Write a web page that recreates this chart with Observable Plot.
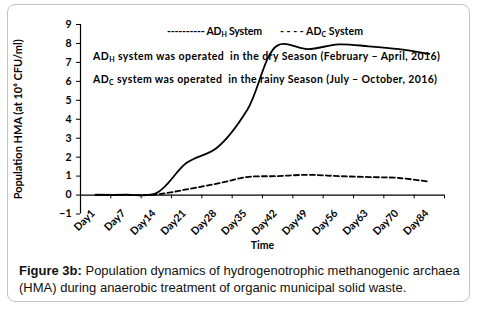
<!DOCTYPE html>
<html>
<head>
<meta charset="utf-8">
<script src="https://cdn.jsdelivr.net/npm/d3@7"></script>
<script src="https://cdn.jsdelivr.net/npm/@observablehq/plot@0.6"></script>
<style>
  html, body { margin: 0; padding: 0; background: #fff; }
  #wrap { position: relative; width: 480px; height: 313px; overflow: hidden; }
  #frame { position: absolute; left: 7px; top: 4px; width: 461px; height: 296px;
           border: 1.5px solid #c4c4c4; border-radius: 8px; }
  #chart { position: absolute; left: 0; top: 0; }
  #caption { position: absolute; left: 19px; top: 262px; width: 455px;
             font-family: "Liberation Sans", Arial, sans-serif; font-size: 13px;
             line-height: 17px; color: #111; }
</style>
</head>
<body>
<div id="wrap">
  <div id="frame"></div>
  <div id="chart"></div>
  <div id="caption"><b>Figure 3b:</b> Population dynamics of hydrogenotrophic methanogenic archaea<br>(HMA) during anaerobic treatment of organic municipal solid waste.</div>
</div>
<script>
const categories = ["Day1","Day7","Day14","Day21","Day28","Day35","Day42","Day49","Day56","Day63","Day70","Day84"];
const adH = [0.02, 0.02, 0.1, 1.7, 2.5, 4.5, 7.9, 7.7, 7.95, 7.85, 7.7, 7.45];
const adC = [0.0, 0.0, 0.03, 0.3, 0.6, 0.95, 1.0, 1.07, 1.0, 0.95, 0.9, 0.7];
const yTicks = [-1, 0, 1, 2, 3, 4, 5, 6, 7, 8, 9];
const yTitle = "Population HMA (at 10\u2076 CFU/ml)";
const xTitle = "Time";

const boundaries = categories.map((_, i) => i - 0.5).concat([categories.length - 0.5]);
const font = "Lato, 'Open Sans', sans-serif";

const chart = Plot.plot({
  width: 480,
  height: 255,
  marginLeft: 80,
  marginRight: 36,
  marginTop: 24,
  marginBottom: 41.5,
  style: { fontFamily: font, background: "transparent" },
  x: { type: "linear", domain: [-0.5, categories.length - 0.5], axis: null },
  y: { domain: [yTicks[0], yTicks[yTicks.length - 1]] },
  marks: [
    Plot.axisY({ ticks: yTicks, tickSize: 4, tickPadding: 5, fontWeight: "bold", fontSize: 10.5, label: null, stroke: "#000", color: "#000" }),
    Plot.ruleX([-0.5], { stroke: "#000", strokeWidth: 1.2 }),
    Plot.ruleY([0], { stroke: "#000", strokeWidth: 1.2 }),
    Plot.ruleX(boundaries, { x: d => d, y1: 0, y2: -0.2, stroke: "#000" }),
    Plot.text(categories, { x: (d, i) => i, frameAnchor: "bottom", text: d => d, rotate: -45, textAnchor: "end", dx: 0, dy: 0, fontWeight: "bold", fontSize: 10.5, fill: "#000" }),
    Plot.text([xTitle], { frameAnchor: "bottom", text: d => d, dy: 35, fontWeight: "bold", fontSize: 10.5, fill: "#000" }),
    Plot.text([yTitle], { frameAnchor: "left", text: d => d, rotate: -90, dx: -62, textAnchor: "middle", fontWeight: "bold", fontSize: 11, fill: "#000" }),
    Plot.line(adC, { x: (d, i) => i, y: d => d, curve: "catmull-rom", stroke: "#000", strokeWidth: 1.8, strokeDasharray: "5,3" }),
    Plot.line(adH, { x: (d, i) => i, y: d => d, curve: "catmull-rom", stroke: "#000", strokeWidth: 1.8 })
  ]
});
document.getElementById("chart").appendChild(chart);

// legend and annotations as real text with subscripts
const svg = d3.select(chart);
const nb = s => s.replace(/ /g, "\u00a0");
function addText(x, y, width, parts) {
  const t = svg.append("text").attr("x", x).attr("y", y)
    .attr("text-anchor", "start")
    .attr("font-family", font).attr("font-weight", "bold").attr("font-size", 10.5).attr("fill", "#000")
    .attr("textLength", width).attr("lengthAdjust", "spacing");
  parts.forEach(p => {
    const s = t.append("tspan").text(nb(p.t));
    if (p.sub) s.attr("font-size", 7).attr("dy", 1.5);
    if (p.back) s.attr("dy", -1.5);
  });
}
addText(167, 35, 95, [{t: "---------- AD"}, {t: "H", sub: true}, {t: " System", back: true}]);
addText(280, 35, 83, [{t: "- - - - AD"}, {t: "C", sub: true}, {t: " System", back: true}]);
addText(93, 60, 347, [{t: "AD"}, {t: "H", sub: true}, {t: " system was operated  in the dry Season (February \u2013 April, 2016)", back: true}]);
addText(93, 83, 344, [{t: "AD"}, {t: "C", sub: true}, {t: " system was operated  in the rainy Season (July \u2013 October, 2016)", back: true}]);
</script>
</body>
</html>
